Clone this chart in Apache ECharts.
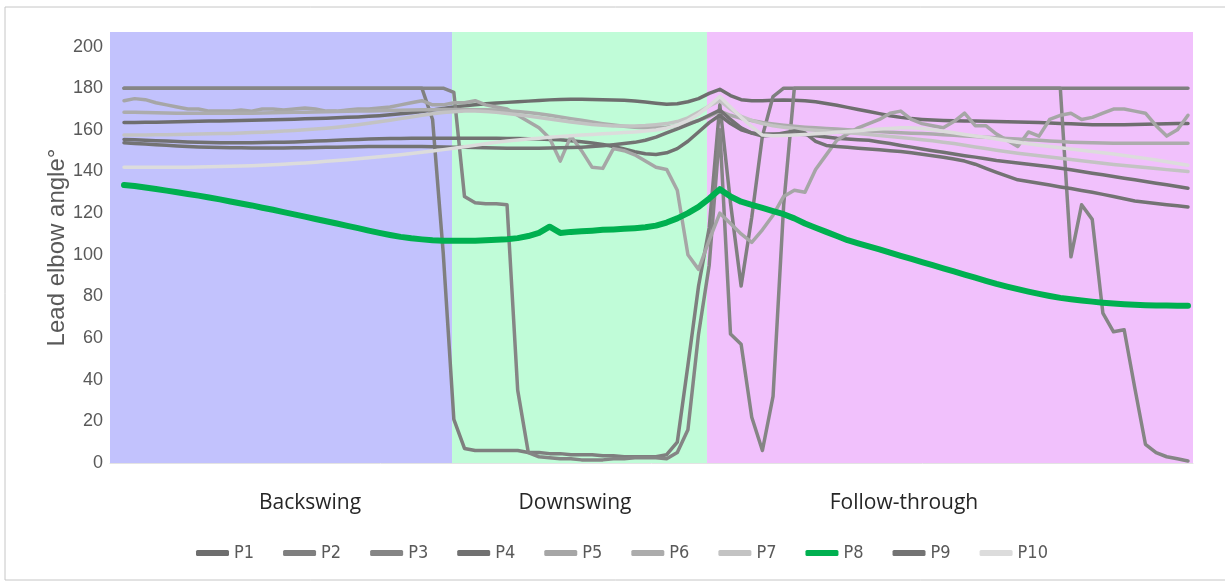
<!DOCTYPE html>
<html>
<head>
<meta charset="utf-8">
<script src="https://cdn.jsdelivr.net/npm/echarts@6/dist/echarts.min.js"></script>
<style>
  html, body { margin: 0; padding: 0; background: #fff; }
  #chart { width: 1225px; height: 583px; }
</style>
</head>
<body>
<div id="chart"></div>
<script>
// frame index across the swing (0..100)
const frames = Array.from({ length: 101 }, (_, i) => i)

// swing phases, as frame ranges
const phaseNames = ['Backswing', 'Downswing', 'Follow-through']
const phaseStart = [-1.316, 30.83, 54.79]
const phaseEnd = [30.83, 54.79, 100.47]

const seriesNames = ['P1', 'P2', 'P3', 'P4', 'P5', 'P6', 'P7', 'P8', 'P9', 'P10']

// lead elbow angle (deg) per frame
const p1 = [163.5,163.5,163.6,163.7,163.8,163.9,164,164.1,164.2,164.3,164.4,164.5,164.6,164.7,164.8,165,165.1,165.3,165.4,165.6,
  165.8,166,166.2,166.5,166.8,167.2,167.7,168.2,168.8,169.5,170.3,171,171.6,172.1,172.5,172.9,173.2,173.5,173.8,174.1,
  174.4,174.6,174.7,174.7,174.6,174.5,174.4,174.2,173.9,173.4,172.8,172.3,172.5,173.5,175,177.5,179.5,176.5,174.5,174,
  174,174.2,174.3,174.2,174,173.5,172.7,171.8,170.8,169.8,168.8,167.8,166.8,166,165.4,165,164.7,164.5,164.4,164.3,
  164.2,164.1,164,163.9,163.8,163.7,163.5,163.3,163.1,162.9,162.7,162.5,162.4,162.4,162.5,162.6,162.7,162.8,162.9,163,163]
const p2 = [180,180,180,180,180,180,180,180,180,180,180,180,180,180,180,180,180,180,180,180,
  180,180,180,180,180,180,180,180,180,165,101,21,7,6,6,6,6,6,5,5,
  4.5,4.5,4,4,4,3.5,3.5,3,3,3,3,4,10,47,85,113,172,125,85,118,
  157,176,180,180,180,180,180,180,180,180,180,180,180,180,180,180,180,180,180,180,
  180,180,180,180,180,180,180,180,180,180,180,180,180,180,180,180,180,180,180,180,180]
const p3 = [180,180,180,180,180,180,180,180,180,180,180,180,180,180,180,180,180,180,180,180,
  180,180,180,180,180,180,180,180,180,180,180,178,128,125,124.5,124.5,124,35,5,3,
  2.5,2,2,1.5,1.5,1.5,2,2,2.5,2.5,2.5,2,5,16,62,95,160,62,57,22,
  6,32,124,180,180,180,180,180,180,180,180,180,180,180,180,180,180,180,180,180,
  180,180,180,180,180,180,180,180,180,99,124,117,72,63,64,36,9,5,3,2,1]
const p4 = [155.4,155.2,155,154.8,154.6,154.4,154.2,154,153.9,153.8,153.8,153.8,153.8,153.9,154,154.1,154.2,154.4,154.6,154.8,
  155,155.2,155.4,155.6,155.7,155.8,155.9,156,156,156,156,156,156,156,156,156,155.9,155.8,155.7,155.6,
  155.4,155.2,154.8,154.3,153.7,153,152,150.8,149.5,148.5,148.2,149,151,154.5,159,163.5,167,163,160,158.5,
  158,158,158,158,157.8,157.2,156.6,156,155.6,155.3,155,154.2,153.4,152.5,151.7,150.8,150,149.2,148.4,147.6,
  146.9,146.1,145.3,144.7,144.1,143.5,142.9,142.3,141.6,140.8,140,139.2,138.4,137.6,136.8,136,135.2,134.4,133.6,132.8,132]
const p5 = [174,175,174.5,173,172,171,170,170,169,169,169,169.5,169,170,170,169.5,170,170.5,170,169,
  169,169.5,170,170,170.5,171,172,173,174,172,172,173,173,174,172,171,170,167,164,161,
  156,145,157,150,142,141.5,151,150,148,145,142,141,131,100,93,107,120,115,110,106,
  112,119,128,131,130,141,148,155,158,161,163,165,168,169,165,163,162,161,164,168,
  162,162,158,155,152,159,157,165,167,168,165,166,168,170,170,169,168,162,157,160,167]
const p6 = [168.5,168.4,168.3,168.2,168.1,168,168,168,168,168,168,168,168,168.1,168.2,168.3,168.4,168.5,168.6,168.7,
  168.8,168.9,169,169.1,169.2,169.3,169.4,169.5,169.6,169.7,169.8,169.8,169.8,169.7,169.6,169.5,169.2,168.8,168.3,167.7,
  167,166.2,165.4,164.6,163.8,163,162.3,161.7,161.2,161,161,161.3,162,163,164.5,166.5,169,167,165.5,164.5,
  163.5,162.8,162.2,161.7,161.3,161,160.7,160.4,160.1,159.8,159.5,159.2,158.9,158.6,158.4,158.2,158,157.7,157.4,157.1,
  156.8,156.5,156.2,155.9,155.6,155.3,155,154.7,154.4,154.1,153.9,153.8,153.7,153.6,153.6,153.6,153.6,153.6,153.6,153.6,153.6]
const p7 = [157.5,157.5,157.5,157.6,157.7,157.8,157.9,158,158.1,158.2,158.3,158.5,158.7,158.9,159.1,159.4,159.7,160,160.4,160.8,
  161.3,161.9,162.5,163.2,163.9,164.6,165.4,166.2,167,167.7,168.3,168.7,169,169,168.8,168.4,167.9,167.3,166.6,165.9,
  165.2,164.5,163.8,163.2,162.6,162.2,161.9,161.8,161.9,162.1,162.5,163,164,165.8,168.5,171.5,174,170,166.5,164.5,
  163,162,161.3,160.7,160.2,159.8,159.4,159,158.6,158.2,157.8,157.3,156.8,156.3,155.8,155.3,154.8,154.1,153.4,152.6,
  151.8,151,150.2,149.5,148.8,148.2,147.6,147,146.4,145.8,145.2,144.6,144,143.4,142.9,142.4,141.9,141.4,140.9,140.5,140]
const p8 = [133.5,133,132.3,131.6,130.8,130,129.2,128.4,127.5,126.6,125.6,124.6,123.7,122.6,121.6,120.5,119.4,118.3,117.2,116.1,
  115,113.9,112.8,111.6,110.5,109.5,108.6,107.9,107.4,107,106.8,106.7,106.7,106.8,107,107.2,107.5,108,109,110.5,
  113.5,110.5,111,111.3,111.6,112,112.2,112.5,112.8,113.2,114,115.5,117.5,120,123,127,131.5,128,125.5,124,
  122.5,121,119.5,117.5,115,113,111,109,107,105.5,104,102.6,101,99.5,98,96.5,95,93.5,92,90.5,
  89,87.5,86,84.7,83.5,82.3,81.2,80.2,79.3,78.6,78,77.5,77,76.6,76.3,76,75.8,75.7,75.6,75.5,75.5]
const p9 = [153.8,153.5,153.2,152.9,152.6,152.3,152,151.8,151.6,151.5,151.4,151.4,151.3,151.3,151.3,151.3,151.4,151.4,151.5,151.6,
  151.7,151.8,151.9,152,152,152,152,152,152,151.9,151.8,151.7,151.6,151.5,151.4,151.3,151.2,151.2,151.2,151.2,
  151.3,151.4,151.5,151.7,152,152.4,152.9,153.4,154,155,156.5,158.5,160.5,162.5,164.5,167,169.5,165,161,158.5,
  157,157.5,158.5,159.5,158.5,154.5,152.5,152,151.6,151.2,150.8,150.4,150,149.6,149,148.3,147.6,146.8,146,145,
  143.5,141.5,139.6,137.8,136,135.2,134.4,133.5,132.6,131.8,130.9,130,129,128,126.9,125.8,125.2,124.6,124,123.5,123]
const p10 = [142,142,142,142,142,142,142.1,142.2,142.3,142.4,142.5,142.6,142.8,143,143.2,143.5,143.8,144.1,144.5,144.9,
  145.3,145.7,146.1,146.6,147.1,147.6,148.1,148.6,149.2,149.8,150.5,151.2,151.9,152.6,153.3,154,154.6,155.1,155.6,156,
  156.4,156.8,157.2,157.5,157.8,158.1,158.4,158.7,159,159.4,159.9,160.8,162.3,164.5,167.5,171.5,176,171,166,161.5,
  157.5,157.2,157.3,157.5,157.8,158.1,158.4,158.8,159.2,159.6,160,160.4,160.7,161,161,160.6,160,159.3,158.6,157.8,
  157.1,156.4,155.6,154.8,154,153.3,152.6,152,151.4,150.8,150.2,149.6,149,148.4,147.7,147,146.3,145.5,144.7,143.8,143]

const allValues = [p1, p2, p3, p4, p5, p6, p7, p8, p9, p10]
const lineColors = ['#6e6e6e', '#7f7f7f', '#858585', '#717171', '#a6a6a6', '#acacac', '#c3c3c3', '#00b050', '#737373', '#dcdcdc']
const bandColors = ['#c2c2fd', '#c0fcd8', '#f1c1fc']
const phaseLabelX = [310, 575, 904]

const chart = echarts.init(document.getElementById('chart'))

const series = seriesNames.map((name, k) => ({
  name: name,
  type: 'line',
  symbol: 'none',
  z: name === 'P8' ? 4 : 2,
  lineStyle: {
    color: lineColors[k],
    width: name === 'P8' ? 6 : 3.5,
    cap: 'round',
    join: 'round'
  },
  itemStyle: { color: lineColors[k] },
  data: frames.map((f, i) => [f, allValues[k][i]])
}))

// coloured phase bands behind the curves
series[0].markArea = {
  silent: true,
  data: phaseNames.map((p, i) => [
    { xAxis: phaseStart[i], itemStyle: { color: bandColors[i] } },
    { xAxis: phaseEnd[i] }
  ])
}

chart.setOption({
  animation: false,
  backgroundColor: '#fff',
  grid: { left: 110, right: 32, top: 32, bottom: 120 },
  xAxis: {
    type: 'value',
    min: phaseStart[0],
    max: phaseEnd[2],
    axisLine: { show: true, lineStyle: { color: '#e3e3e3', width: 1 } },
    axisTick: { show: false },
    axisLabel: { show: false },
    splitLine: { show: false }
  },
  yAxis: {
    type: 'value',
    min: 0,
    max: 207,
    interval: 20,
    name: 'Lead elbow angle°',
    nameLocation: 'middle',
    nameGap: 41,
    nameMoveOverlap: false,
    nameTextStyle: { fontFamily: 'Liberation Sans, Arial, sans-serif', fontSize: 24, color: '#595959' },
    axisLine: { show: false },
    axisTick: { show: false },
    splitLine: { show: false },
    axisLabel: {
      showMaxLabel: false,
      margin: 7,
      fontFamily: 'Liberation Sans, Arial, sans-serif',
      fontSize: 18,
      color: '#595959'
    }
  },
  legend: {
    data: seriesNames,
    left: 191,
    top: 539,
    icon: 'roundRect',
    itemWidth: 33,
    itemHeight: 6,
    itemGap: 29,
    textStyle: {
      fontFamily: "'Liberation Sans Narrow', 'DejaVu Sans Condensed', sans-serif",
      fontSize: 18,
      color: '#595959'
    }
  },
  graphic: [
    {
      type: 'rect',
      silent: true,
      shape: { x: 5, y: 7, width: 1230, height: 573 },
      style: { fill: 'none', stroke: '#c6c6c6', lineWidth: 1 }
    }
  ].concat(phaseNames.map((p, i) => ({
    type: 'text',
    silent: true,
    x: phaseLabelX[i],
    y: 503,
    style: {
      text: p,
      fill: '#262626',
      font: "21px 'Open Sans', sans-serif",
      textAlign: 'center',
      textVerticalAlign: 'middle'
    }
  }))),
  series: series
})

window.addEventListener('resize', () => chart.resize())
</script>
</body>
</html>
